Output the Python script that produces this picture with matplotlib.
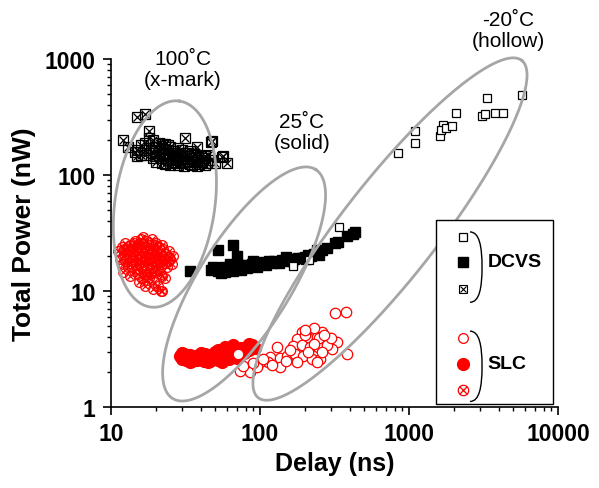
import numpy as np
import matplotlib
matplotlib.use("Agg")
import matplotlib.pyplot as plt
from matplotlib.path import Path
from matplotlib.patches import PathPatch, Rectangle
from matplotlib.ticker import FixedLocator, FixedFormatter, LogLocator, NullFormatter

plt.rcParams['font.family'] = ['Liberation Sans', 'DejaVu Sans']

# delay (ns), total power (nW)
dcvs_cold = [(843, 155), (1096, 239), (1096, 189), (1615, 217), (1691, 270), (1640, 244),
             (1771, 254), (1944, 264), (2066, 342), (3334, 461), (3090, 323), (3236, 336),
             (3776, 342), (4276, 342), (5728, 490), (339, 35.6), (166, 16.4), (213, 18.5)]

dcvs_room = [(33.9, 14.9), (52.3, 22.5), (65.9, 24.9), (70.1, 20.0), (47, 15.2), (50, 15.8),
             (52, 15.0), (55, 15.5), (55, 14.3), (57, 16.0), (60, 15.3), (62, 16.2), (65, 15.6),
             (68, 16.4), (70, 15.9), (73, 16.6), (75, 15.2), (76, 16.0), (80, 16.8), (84, 16.3),
             (88, 17.2), (92, 16.6), (95, 16.2), (96, 17.4), (100, 17.0), (105, 17.7), (110, 17.3),
             (115, 18.0), (120, 17.6), (125, 18.3), (130, 17.9), (140, 18.6), (150, 18.3),
             (160, 19.0), (170, 18.7), (180, 19.4), (190, 19.2), (200, 19.8), (210, 20.4),
             (220, 20.1), (230, 21.0), (245, 21.5), (260, 22.5), (280, 23.5), (318, 25.9),
             (336, 26.5), (384, 29.8), (420, 31.0), (434, 32.3), (58, 14.6), (66, 15.0),
             (82, 15.7), (110, 16.6), (135, 17.4), (165, 18.0), (205, 19.0), (250, 20.5),
             (48, 16.2), (63, 17.0), (90, 18.0), (150, 19.6), (240, 22.6)]

dcvs_hot = [(14.9, 316), (16.9, 336), (12.0, 200), (13.0, 174), (14.5, 158), (18.0, 239),
            (47.7, 196), (55.6, 143), (60.1, 127), (31.4, 209), (46.9, 192), (56.6, 146),
            (37.8, 174), (42.8, 146), (15, 165), (16, 180), (17, 150), (17, 190), (18, 170),
            (19, 155), (19, 200), (20, 145), (20, 175), (21, 160), (21, 190), (22, 140),
            (22, 170), (23, 155), (23, 185), (24, 135), (24, 165), (25, 150), (25, 175),
            (26, 140), (26, 160), (27, 130), (27, 155), (28, 170), (28, 145), (29, 135),
            (30, 150), (30, 165), (31, 140), (32, 130), (32, 155), (33, 145), (34, 125),
            (34, 160), (35, 140), (36, 130), (37, 150), (38, 135), (39, 125), (40, 145),
            (41, 130), (42, 140), (44, 128), (45, 150), (18, 210), (16, 150), (15, 145),
            (20, 130), (23, 125), (26, 128), (21, 150), (22, 128), (24, 145), (25, 122),
            (27, 142), (28, 122), (29, 155), (30, 128), (31, 120), (33, 132), (35, 122),
            (36, 152), (38, 120), (40, 135), (43, 122), (47, 135), (50, 128), (19, 140),
            (17, 165), (22, 185), (24, 180), (20, 160), (26, 150), (28, 135)]

slc_cold = [(191, 4.43), (227, 4.52), (261, 4.43), (177, 3.86), (207, 4.0), (241, 4.0),
            (282, 3.71), (329, 3.63), (130, 3.29), (166, 3.36), (191, 3.42), (217, 3.29),
            (245, 3.29), (304, 3.16), (384, 2.86), (117, 2.70), (136, 2.64), (152, 2.75),
            (172, 2.86), (194, 2.75), (223, 2.59), (253, 2.59), (113, 2.44), (136, 2.21),
            (177, 2.44), (241, 2.44), (85.7, 2.0), (73.5, 2.04), (71.2, 2.86), (100, 2.44),
            (318, 6.46), (378, 6.59), (76.9, 2.25), (200, 4.2), (250, 3.9), (230, 3.5),
            (280, 3.4), (160, 3.1), (210, 3.0), (260, 3.0), (300, 3.9), (150, 2.5),
            (120, 2.3), (95, 2.2), (105, 2.6), (230, 4.8), (200, 4.6), (270, 4.2), (90, 2.4)]

slc_room = [(29, 2.75), (30, 2.6), (31, 2.85), (32, 2.55), (33, 2.7), (34, 2.8), (35, 2.5),
            (36, 2.65), (37, 2.75), (38, 2.55), (39, 2.8), (40, 2.6), (41, 2.7), (42, 2.5),
            (43, 2.85), (44, 2.65), (45, 2.7), (46, 2.5), (47, 2.8), (48, 2.6), (50, 2.75),
            (52, 2.55), (54, 2.9), (56, 2.6), (58, 2.8), (60, 2.7), (62, 3.0), (64, 2.75),
            (66, 2.9), (68, 3.1), (70, 2.8), (72, 3.0), (75, 3.2), (78, 2.9), (80, 3.3),
            (84, 3.1), (88, 3.4), (92, 3.2), (62, 2.6), (70, 2.65), (78, 3.1), (55, 3.0),
            (65, 3.2), (85, 3.5), (30, 2.9), (34, 2.45), (40, 2.9), (45, 2.45), (50, 3.0),
            (56, 2.45), (60, 3.05), (72, 2.7), (58, 3.3), (66, 3.4), (52, 3.1)]

slc_hot = [(11.2, 22), (11.5, 19), (11.8, 24), (12.0, 17), (12.2, 21), (12.5, 26), (12.8, 19),
           (13.0, 23), (13.0, 16), (13.3, 20), (13.6, 25), (13.8, 18), (14.0, 22), (14.2, 15),
           (14.5, 27), (14.5, 20), (14.8, 17), (15.0, 24), (15.2, 14), (15.3, 21), (15.6, 19),
           (15.8, 26), (16.0, 16), (16.0, 22), (16.3, 13), (16.5, 29), (16.5, 18), (16.8, 24),
           (17.0, 20), (17.0, 15), (17.3, 27), (17.5, 12.5), (17.5, 22), (17.8, 17), (18.0, 25),
           (18.0, 19), (18.3, 14), (18.5, 21), (18.8, 28), (18.8, 16), (19.0, 23), (19.3, 18),
           (19.5, 12), (19.5, 20), (19.8, 25), (20.0, 15), (20.2, 22), (20.5, 17), (20.8, 11),
           (21.0, 19), (21.0, 24), (21.5, 14), (21.8, 21), (22.0, 10), (22.0, 17), (22.5, 23),
           (22.8, 19), (23.0, 13), (23.5, 21), (23.8, 16), (24.0, 18), (24.5, 22), (25.0, 19),
           (25.5, 17), (26.0, 20), (12.0, 14.5), (13.5, 13.5), (15.5, 12), (17, 11), (19, 10.5),
           (21.5, 10), (14, 24.5), (16, 28), (18, 23.5), (20, 26), (22, 25), (12.5, 18),
           (13.2, 22), (14.0, 19), (14.8, 23), (15.5, 17), (16.2, 20), (17.2, 18), (17.8, 21),
           (18.6, 17.5), (19.2, 21.5), (20.0, 19), (20.8, 15.5), (21.5, 18), (22.2, 20),
           (23.2, 17.5), (16.8, 14), (18.0, 13), (15.0, 15.5), (13.8, 16), (16.5, 25.5),
           (19.5, 14.5), (22.0, 13.5), (24.5, 19.5), (12.2, 23), (14.2, 26), (15.8, 22.5)]

# temperature groups: centre (delay, power), semi-axes in px, tilt in degrees
groups = [((23.0, 56.2), 104, 50, 82),
          ((78.2, 11.5), 135, 46, 58),
          ((745, 34.2), 214, 48, 52)]
group_labels = ["100˚C\n(x-mark)", "25˚C\n(solid)", "-20˚C\n(hollow)"]
group_label_pos = [(0.161, 0.971), (0.427, 0.790), (0.888, 1.083)]

xticks = [10, 100, 1000, 10000]
yticks = [1, 10, 100, 1000]

fig = plt.figure(figsize=(5.99, 4.89), dpi=100)
ax = fig.add_axes([0.1853, 0.1656, 0.7463, 0.7117])
ax.set_xscale('log')
ax.set_yscale('log')
ax.set_xlim(10, 10000)
ax.set_ylim(1, 1000)

red = '#ff0000'


def xy(pts):
    a = np.array(pts, dtype=float)
    return a[:, 0], a[:, 1]


x, y = xy(dcvs_hot)
ax.plot(x, y, 's', ms=7, mfc='none', mec='black', mew=0.9, ls='')
ax.plot(x, y, 'x', ms=5.5, mec='black', mew=0.9, ls='')

x, y = xy(slc_hot)
ax.plot(x, y, 'o', ms=7, mfc='none', mec=red, mew=0.9, ls='')
ax.plot(x, y, 'x', ms=5, mec=red, mew=0.9, ls='')

x, y = xy(dcvs_room)
ax.plot(x, y, 's', ms=7, color='black', ls='')

x, y = xy(slc_room)
ax.plot(x, y, 'o', ms=8.5, color=red, ls='')

x, y = xy(dcvs_cold)
ax.plot(x, y, 's', ms=6, mfc='white', mec='black', mew=0.9, ls='')

x, y = xy(slc_cold)
ax.plot(x, y, 'o', ms=7.5, mfc='white', mec=red, mew=0.9, ls='')

# grey rings around each temperature group, drawn in screen units
t = np.linspace(0, 2 * np.pi, 400)
for (c, a, b, ang) in groups:
    cx, cy = ax.transData.transform(c)
    th = np.radians(ang)
    px = cx + a * np.cos(t) * np.cos(th) - b * np.sin(t) * np.sin(th)
    py = cy + a * np.cos(t) * np.sin(th) + b * np.sin(t) * np.cos(th)
    d = ax.transData.inverted().transform(np.column_stack([px, py]))
    ax.plot(d[:, 0], d[:, 1], color='#a6a6a6', lw=2.0, clip_on=False, zorder=3)

for s, (fx, fy) in zip(group_labels, group_label_pos):
    ax.text(fx, fy, s, transform=ax.transAxes, ha='center', va='center',
            fontsize=15, linespacing=1.15)

# legend box
ax.add_patch(Rectangle((0.727, 0.009), 0.262, 0.528, transform=ax.transAxes,
                       facecolor='white', edgecolor='black', lw=1.0, zorder=5))
lx = 0.787
leg = ax.transAxes
ax.plot([lx], [0.489], 's', ms=6, mfc='white', mec='black', mew=0.9, transform=leg, zorder=6)
ax.plot([lx], [0.417], 's', ms=6.5, color='black', transform=leg, zorder=6)
ax.plot([lx], [0.339], 's', ms=6, mfc='white', mec='black', mew=0.8, transform=leg, zorder=6)
ax.plot([lx], [0.339], 'x', ms=4.5, mec='black', mew=0.8, transform=leg, zorder=6)
ax.plot([lx], [0.198], 'o', ms=7, mfc='white', mec=red, mew=0.9, transform=leg, zorder=6)
ax.plot([lx], [0.124], 'o', ms=8.5, color=red, transform=leg, zorder=6)
ax.plot([lx], [0.049], 'o', ms=7.5, mfc='none', mec=red, mew=0.9, transform=leg, zorder=6)
ax.plot([lx], [0.049], 'x', ms=6, mec=red, mew=0.9, transform=leg, zorder=6)

for yc in (0.402, 0.117):
    h = 0.101
    verts = [(0.803, yc + h), (0.824, yc + h), (0.830, yc + 0.06), (0.830, yc),
             (0.830, yc - 0.06), (0.824, yc - h), (0.803, yc - h)]
    codes = [Path.MOVETO, Path.CURVE4, Path.CURVE4, Path.CURVE4,
             Path.CURVE4, Path.CURVE4, Path.CURVE4]
    ax.add_patch(PathPatch(Path(verts, codes), transform=leg, fill=False,
                           edgecolor='black', lw=1.0, zorder=6))

ax.text(0.843, 0.417, 'DCVS', transform=leg, fontsize=14, fontweight='bold',
        ha='left', va='center', zorder=7)
ax.text(0.843, 0.124, 'SLC', transform=leg, fontsize=14, fontweight='bold',
        ha='left', va='center', zorder=7)

# axes styling
for side in ('top', 'right'):
    ax.spines[side].set_visible(False)
for side in ('left', 'bottom'):
    ax.spines[side].set_linewidth(1.2)

ax.xaxis.set_major_locator(FixedLocator(xticks))
ax.xaxis.set_major_formatter(FixedFormatter([str(v) for v in xticks]))
ax.yaxis.set_major_locator(FixedLocator(yticks))
ax.yaxis.set_major_formatter(FixedFormatter([str(v) for v in yticks]))
ax.xaxis.set_minor_locator(LogLocator(base=10, subs=np.arange(2, 10)))
ax.yaxis.set_minor_locator(LogLocator(base=10, subs=np.arange(2, 10)))
ax.xaxis.set_minor_formatter(NullFormatter())
ax.yaxis.set_minor_formatter(NullFormatter())
ax.tick_params(which='major', direction='out', length=6, width=1.2, labelsize=16.5, pad=5)
ax.tick_params(which='minor', direction='out', length=3, width=1.0)
for lab in ax.get_xticklabels() + ax.get_yticklabels():
    lab.set_fontweight('bold')

ax.set_xlabel('Delay (ns)', fontsize=18, fontweight='bold', labelpad=4)
ax.set_ylabel('Total Power (nW)', fontsize=19, fontweight='bold', labelpad=6)

fig.savefig('out.png', dpi=100)
